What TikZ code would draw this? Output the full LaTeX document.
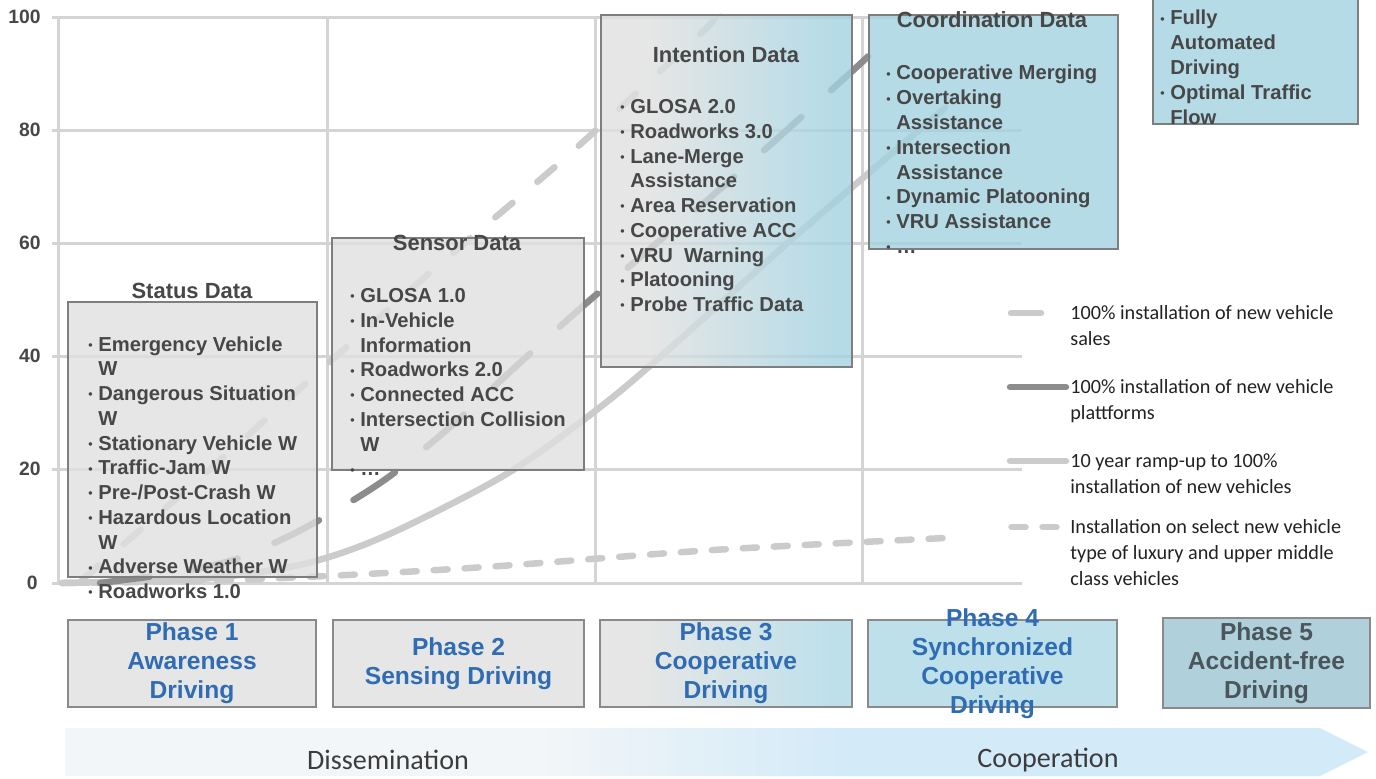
\documentclass[tikz,border=0pt]{standalone}
\usepackage{fontspec}
\setmainfont{Liberation Sans}
\newfontfamily\legendfont{Carlito}
\usepackage{tikz}
\usetikzlibrary{calc}

\definecolor{gridgray}{HTML}{D4D4D4}
\definecolor{lightcurve}{HTML}{CBCBCB}
\definecolor{darkcurve}{HTML}{8C8C8C}
\definecolor{boxgray}{HTML}{E0E0E0}
\definecolor{boxblue}{HTML}{A2D2E1}
\definecolor{boxedge}{HTML}{7E7E7E}
\definecolor{textgray}{HTML}{474747}
\definecolor{legendink}{HTML}{222222}
\definecolor{phaseblue}{HTML}{2F6CB3}
\definecolor{phaseedge}{HTML}{8A8A8A}
\definecolor{phasefill}{HTML}{E6E6E6}
\definecolor{phaselight}{HTML}{BDE0EB}
\definecolor{phaseteal}{HTML}{B0D1DC}
\definecolor{phaseink}{HTML}{4A565B}
\definecolor{flowpale}{HTML}{F3F6F8}
\definecolor{flowblue}{HTML}{D3EAF8}
\definecolor{flowink}{HTML}{3C3C3C}

\pgfdeclarehorizontalshading{intentfade}{100bp}{color(0bp)=(boxgray); color(34bp)=(boxgray); color(72bp)=(boxblue); color(100bp)=(boxblue)}
\pgfdeclarehorizontalshading{phasefade}{100bp}{color(0bp)=(phasefill); color(34bp)=(phasefill); color(72bp)=(phaselight); color(100bp)=(phaselight)}
\pgfdeclarehorizontalshading{flowfade}{100bp}{color(0bp)=(flowpale); color(43bp)=(flowpale); color(55bp)=(flowblue); color(100bp)=(flowblue)}

\newcommand{\dotitem}{\makebox[0.2cm][l]{\raisebox{1pt}{\scriptsize\textbullet}}}
\newcommand{\dotgap}{\hspace*{0.2cm}}

\tikzset{
  gridline/.style={draw=gridgray, line width=0.06cm},
  sales/.style={draw=lightcurve, line width=0.13cm, line cap=round, dash pattern=on 0.45cm off 0.65cm},
  platform/.style={draw=darkcurve, line width=0.13cm, line cap=round, dash pattern=on 1.0cm off 0.8cm},
  rampup/.style={draw=lightcurve, line width=0.13cm, line cap=round},
  luxury/.style={draw=lightcurve, line width=0.13cm, line cap=round, dash pattern=on 0.28cm off 0.34cm},
  graybox/.style={draw=boxedge, line width=0.7pt, fill=boxgray, fill opacity=0.8},
  bluebox/.style={draw=boxedge, line width=0.7pt, fill=boxblue, fill opacity=0.8},
  fadebox/.style={draw=boxedge, line width=0.7pt, shading=intentfade, fill opacity=0.8},
  titletext/.style={font=\fontsize{12.5}{15}\selectfont\bfseries, text=textgray, inner sep=0pt},
  listtext/.style={font=\fontsize{11.5}{14.1}\selectfont\bfseries, text=textgray, align=left, anchor=north west, inner sep=0pt},
  axislabel/.style={font=\fontsize{11}{13}\selectfont\bfseries, text=textgray, anchor=east, inner sep=0pt},
  legendtext/.style={font=\legendfont\fontsize{11.5}{14.8}\selectfont, text=legendink, align=left, anchor=north west, inner sep=0pt},
  phasebox/.style={draw=phaseedge, line width=0.7pt, fill=phasefill},
  phaseshade/.style={draw=phaseedge, line width=0.7pt, shading=phasefade},
  phasetext/.style={font=\fontsize{14}{16.5}\selectfont\bfseries, text=phaseblue, align=center},
  flowtext/.style={font=\legendfont\fontsize{16}{19}\selectfont, text=flowink},
}

\begin{document}
\begin{tikzpicture}[x=0.02cm, y=-0.02cm]
  \useasboundingbox (0,0) rectangle (1376,778);

  % grid
  \draw[gridline] (52,17) -- (1022,17);
  \draw[gridline] (52,130) -- (1022,130);
  \draw[gridline] (52,243) -- (1022,243);
  \draw[gridline] (52,356) -- (1022,356);
  \draw[gridline] (52,469) -- (1022,469);
  \draw[gridline] (52,583) -- (1022,583);
  \draw[gridline] (58,17) -- (58,583);
  \draw[gridline] (327,17) -- (327,583);
  \draw[gridline] (595,17) -- (595,583);
  \draw[gridline] (862,17) -- (862,583);

  \node[axislabel] (v100) at (41,17) {100};
  \node[axislabel] (v80) at (41,130) {80};
  \node[axislabel] (v60) at (41,243) {60};
  \node[axislabel] (v40) at (41,356) {40};
  \node[axislabel] (v20) at (41,469) {20};
  \node[axislabel] (v0) at (38,583) {0};

  % curves
  \draw[luxury] plot[smooth] coordinates {(62,583) (200,581) (347,575) (500,566) (713,550) (945,538)};
  \draw[rampup] plot[smooth] coordinates {(62,583) (200,579) (290,567) (350,550) (413,523) (513,470) (613,397) (713,310) (800,232) (945,108)};
  \draw[platform] plot[smooth] coordinates {(100,583) (174,573) (233,560) (287,537) (337,510) (390,476) (450,427) (523,360) (590,300) (727,183) (860,64) (893,30)};
  \draw[sales] plot[smooth] coordinates {(82,580) (200,478) (313,377) (433,270) (565,158) (697,37) (712,22)};

  % data boxes
  \draw[graybox] (68,302) rectangle (317,577);
  \draw[graybox] (332,238) rectangle (584,470);
  \shadedraw[fadebox] (601,15) rectangle (852,367);
  \draw[bluebox] (869,15) rectangle (1118,249);
  \draw[bluebox] (1153,-20) rectangle (1358,124);

  \node[titletext] (statustitle) at (192,291) {Status Data};
  \node[titletext] (sensortitle) at (457,243) {Sensor Data};
  \node[titletext] (intenttitle) at (726,55) {Intention Data};
  \node[titletext] (coordtitle) at (992,20) {Coordination Data};

  \node[listtext] (statuslist) at (88,336) {\dotitem Emergency Vehicle\\ \dotgap W\\ \dotitem Dangerous Situation\\ \dotgap W\\
    \dotitem Stationary Vehicle W\\ \dotitem Traffic-Jam W\\ \dotitem Pre-/Post-Crash W\\ \dotitem Hazardous Location\\
    \dotgap W\\ \dotitem Adverse Weather W\\ \dotitem Roadworks 1.0};
  \node[listtext] (sensorlist) at (350,288) {\dotitem GLOSA 1.0\\ \dotitem In-Vehicle\\ \dotgap Information\\ \dotitem Roadworks 2.0\\
    \dotitem Connected ACC\\ \dotitem Intersection Collision\\ \dotgap W\\ \dotitem \ldots};
  \node[listtext] (intentlist) at (620,99) {\dotitem GLOSA 2.0\\ \dotitem Roadworks 3.0\\ \dotitem Lane-Merge\\ \dotgap Assistance\\
    \dotitem Area Reservation\\ \dotitem Cooperative ACC\\ \dotitem VRU\ \ Warning\\ \dotitem Platooning\\ \dotitem Probe Traffic Data};
  \node[listtext] (coordlist) at (886,65) {\dotitem Cooperative Merging\\ \dotitem Overtaking\\ \dotgap Assistance\\ \dotitem Intersection\\
    \dotgap Assistance\\ \dotitem Dynamic Platooning\\ \dotitem VRU Assistance\\ \dotitem \ldots};
  \node[listtext] (autolist) at (1160,10) {\dotitem Fully\\ \dotgap Automated\\ \dotgap Driving\\ \dotitem Optimal Traffic\\ \dotgap Flow};

  % legend
  \coordinate (k1) at (1011,313);
  \coordinate (k2) at (1010,387);
  \coordinate (k3) at (1010,461);
  \coordinate (k4) at (1011.5,527);
  \draw[sales, solid] (k1) -- ++(30,0);
  \draw[platform, solid] (k2) -- ++(56,0);
  \draw[rampup] (k3) -- ++(56,0);
  \draw[luxury] (k4) -- ++(50,0);
  \node[legendtext] (leg1) at (1070,305) {100\% installation of new vehicle\\sales};
  \node[legendtext] (leg2) at (1070,379) {100\% installation of new vehicle\\plattforms};
  \node[legendtext] (leg3) at (1070,453) {10 year ramp-up to 100\%\\installation of new vehicles};
  \node[legendtext] (leg4) at (1070,519) {Installation on select new vehicle\\type of luxury and upper middle\\class vehicles};

  % phases
  \draw[phasebox] (68,620) rectangle node[phasetext] (ph1) {Phase 1\\Awareness\\Driving} (316,707);
  \draw[phasebox] (333,620) rectangle node[phasetext] (ph2) {Phase 2\\Sensing Driving} (584,707);
  \shadedraw[phaseshade] (600,620) rectangle node[phasetext] (ph3) {Phase 3\\Cooperative\\Driving} (852,707);
  \draw[phasebox, fill=phaselight] (868,620) rectangle node[phasetext] (ph4) {Phase 4\\Synchronized\\Cooperative\\Driving} (1117,707);
  \draw[phasebox, fill=phaseteal] (1163,618) rectangle node[phasetext, text=phaseink] (ph5) {Phase 5\\Accident-free\\Driving} (1370,708);

  % flow arrow
  \shade[shading=flowfade] (65,728) -- (1320,728) -- (1368,752) -- (1320,776) -- (65,776) -- cycle;
  \node[flowtext] (dissem) at (388,760) {Dissemination};
  \node[flowtext] (coop) at (1048,760) {Cooperation};
\end{tikzpicture}
\end{document}
